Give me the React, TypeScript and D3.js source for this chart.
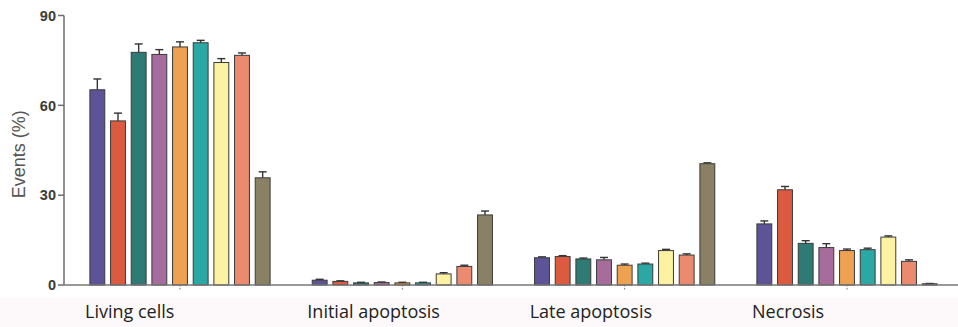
import React from "react";
import * as d3 from "d3";

const categories = ["Living cells", "Initial apoptosis", "Late apoptosis", "Necrosis"];
const livingCells = [65.2, 54.8, 77.7, 77.0, 79.5, 80.9, 74.3, 76.7, 35.8];
const livingCellsErr = [3.6, 2.6, 2.8, 1.6, 1.7, 0.8, 1.3, 0.8, 2.0];
const initialApoptosis = [1.6, 1.2, 0.7, 0.8, 0.7, 0.7, 3.7, 6.2, 23.4];
const initialApoptosisErr = [0.3, 0.2, 0.2, 0.2, 0.2, 0.2, 0.4, 0.4, 1.3];
const lateApoptosis = [9.1, 9.5, 8.7, 8.4, 6.6, 7.0, 11.5, 10.0, 40.5];
const lateApoptosisErr = [0.3, 0.3, 0.3, 0.8, 0.4, 0.3, 0.4, 0.4, 0.3];
const necrosis = [20.4, 31.8, 13.9, 12.5, 11.5, 11.8, 16.0, 7.9, 0.4];
const necrosisErr = [1.0, 1.1, 0.9, 1.3, 0.5, 0.5, 0.4, 0.5, 0.1];
const seriesColors = ["#5d5498", "#dc5a40", "#2f7b74", "#a66d9c", "#eea150", "#2ba8a4", "#fdf2a2", "#ea8a6f", "#8a8063"];
const yTicks = [0, 30, 60, 90];

const values = [livingCells, initialApoptosis, lateApoptosis, necrosis];
const errors = [livingCellsErr, initialApoptosisErr, lateApoptosisErr, necrosisErr];

export default function App() {
  const W = 958, H = 327;
  const axisX = 64;
  const y = d3.scaleLinear().domain([0, 90]).range([285, 15.5]);
  const xg = d3.scalePoint<string>().domain(categories).range([180, 847]);
  const xs = d3.scaleBand<number>().domain(d3.range(9)).range([-93, 93]).paddingInner(0.28).paddingOuter(0.14);
  const bw = xs.bandwidth();
  return (
    <svg width={W} height={H} style={{ position: "absolute", left: 0, top: 0, background: "#fff" }}>
      <rect x={0} y={298} width={W} height={H - 298} fill="#fdf9fa" />
      {/* y axis */}
      <line x1={axisX} x2={axisX} y1={y(90)} y2={y(0)} stroke="#6d6d6d" strokeWidth={1.5} />
      {yTicks.map((t) => (
        <g key={t}>
          <line x1={axisX - 6} x2={axisX} y1={y(t)} y2={y(t)} stroke="#6d6d6d" strokeWidth={1.5} />
          <text x={axisX - 8} y={y(t)} dy="0.36em" textAnchor="end" fontFamily="Liberation Sans, Arial, sans-serif" fontWeight="bold" fontSize={14.5} fill="#3a3a3a">{t}</text>
        </g>
      ))}
      <text transform={`translate(25,${(y(90) + y(0)) / 2 + 4}) rotate(-90)`} textAnchor="middle" fontFamily="Liberation Sans, Arial, sans-serif" fontSize={18} fill="#555">Events (%)</text>
      {/* bars */}
      {categories.map((c, gi) => (
        <g key={c} transform={`translate(${xg(c)},0)`}>
          {values[gi].map((v, si) => {
            const x0 = (xs(si) as number);
            const cx = x0 + bw / 2;
            const top = y(v + errors[gi][si]);
            return (
              <g key={si}>
                <line x1={cx} x2={cx} y1={y(v)} y2={top} stroke="#333" strokeWidth={1.4} />
                <line x1={cx - 4} x2={cx + 4} y1={top} y2={top} stroke="#333" strokeWidth={1.4} />
                <rect x={x0} y={y(v)} width={bw} height={y(0) - y(v)} fill={seriesColors[si]} stroke="#3a3a3a" strokeWidth={1} />
              </g>
            );
          })}
          <line x1={0} x2={0} y1={y(0)} y2={y(0) + 5} stroke="#777" strokeWidth={1} strokeDasharray="1.5,1.5" />
          <text x={-95} y={318} fontFamily="Open Sans, sans-serif" fontSize={18} fill="#222">{c}</text>
        </g>
      ))}
      {/* x axis */}
      <line x1={axisX} x2={W} y1={y(0)} y2={y(0)} stroke="#777" strokeWidth={1.5} />
    </svg>
  );
}
